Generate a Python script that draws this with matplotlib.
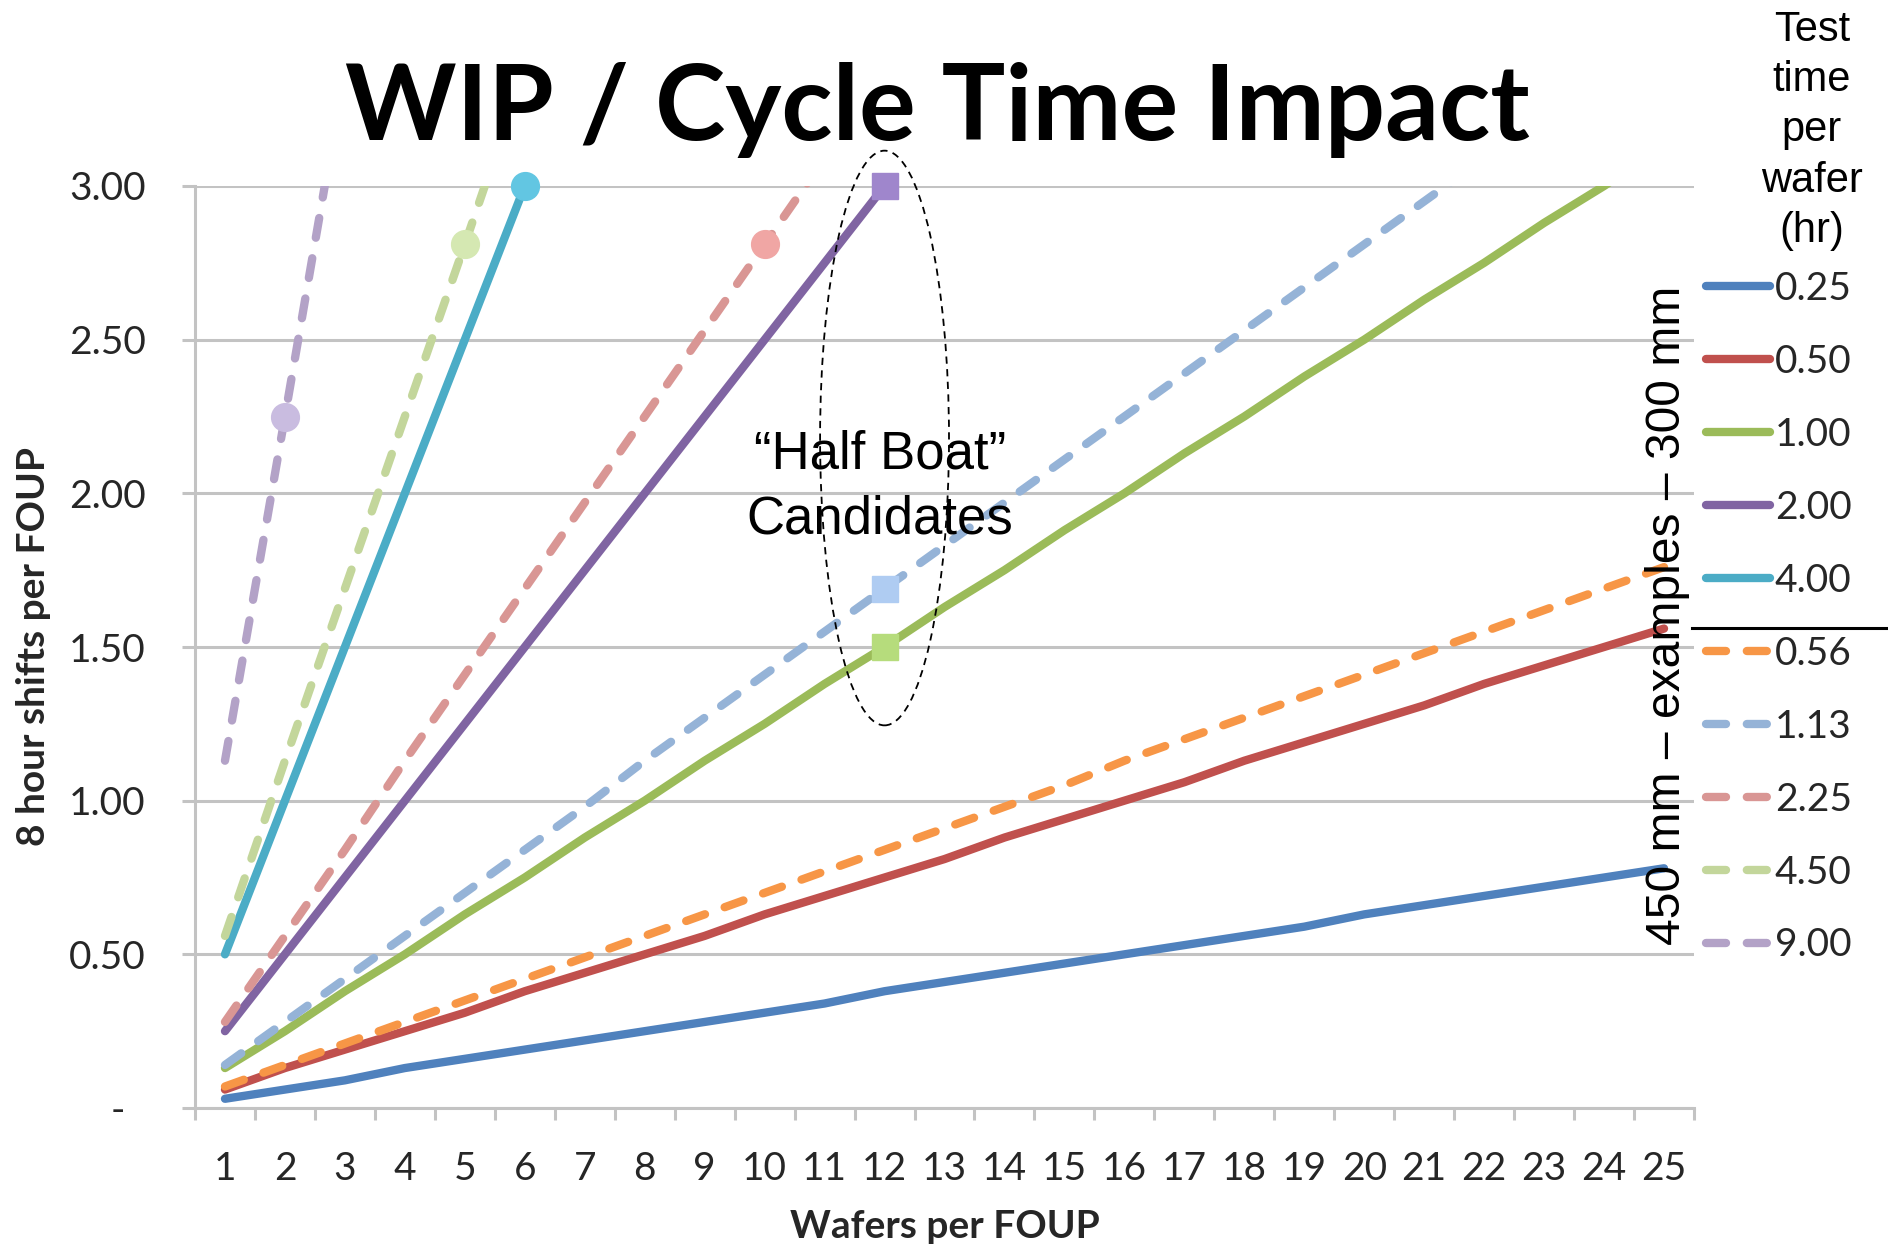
import matplotlib
matplotlib.use("Agg")
import matplotlib.pyplot as plt
from matplotlib.patches import Ellipse
from matplotlib.lines import Line2D

# wafers per FOUP (x categories)
wafers = list(range(1, 26))

# 8 hour shifts per FOUP, one list per test time per wafer (hr)
# 300 mm examples
shifts_025 = [0.03, 0.06, 0.09, 0.13, 0.16, 0.19, 0.22, 0.25, 0.28, 0.31, 0.34, 0.38, 0.41,
              0.44, 0.47, 0.50, 0.53, 0.56, 0.59, 0.63, 0.66, 0.69, 0.72, 0.75, 0.78]
shifts_050 = [0.06, 0.13, 0.19, 0.25, 0.31, 0.38, 0.44, 0.50, 0.56, 0.63, 0.69, 0.75, 0.81,
              0.88, 0.94, 1.00, 1.06, 1.13, 1.19, 1.25, 1.31, 1.38, 1.44, 1.50, 1.56]
shifts_100 = [0.13, 0.25, 0.38, 0.50, 0.63, 0.75, 0.88, 1.00, 1.13, 1.25, 1.38, 1.50, 1.63,
              1.75, 1.88, 2.00, 2.13, 2.25, 2.38, 2.50, 2.63, 2.75, 2.88, 3.00, 3.13]
shifts_200 = [0.25, 0.50, 0.75, 1.00, 1.25, 1.50, 1.75, 2.00, 2.25, 2.50, 2.75, 3.00]
shifts_400 = [0.50, 1.00, 1.50, 2.00, 2.50, 3.00]
# 450 mm examples
shifts_056 = [0.07, 0.14, 0.21, 0.28, 0.35, 0.42, 0.49, 0.56, 0.63, 0.70, 0.77, 0.84, 0.91,
              0.98, 1.05, 1.13, 1.20, 1.27, 1.34, 1.41, 1.48, 1.55, 1.62, 1.69, 1.76]
shifts_113 = [0.14, 0.28, 0.42, 0.56, 0.70, 0.84, 0.98, 1.13, 1.27, 1.41, 1.55, 1.69, 1.83,
              1.97, 2.11, 2.25, 2.39, 2.53, 2.67, 2.81, 2.95, 3.09]
shifts_225 = [0.28, 0.56, 0.84, 1.13, 1.41, 1.69, 1.97, 2.25, 2.53, 2.81, 3.09]
shifts_450 = [0.56, 1.13, 1.69, 2.25, 2.81, 3.38]
shifts_900 = [1.13, 2.25, 3.38]

test_times = ["0.25", "0.50", "1.00", "2.00", "4.00", "0.56", "1.13", "2.25", "4.50", "9.00"]
all_shifts = [shifts_025, shifts_050, shifts_100, shifts_200, shifts_400,
              shifts_056, shifts_113, shifts_225, shifts_450, shifts_900]

# highlighted points: (test time, wafers per FOUP)
circle_pts = [("9.00", 2), ("4.50", 5), ("4.00", 6), ("2.25", 10)]
square_pts = [("2.00", 12), ("1.13", 12), ("1.00", 12)]

y_ticks = [0, 0.5, 1.0, 1.5, 2.0, 2.5, 3.0]
y_ticklabels = ["-  ", "0.50", "1.00", "1.50", "2.00", "2.50", "3.00"]

colors = ["#4F81BD", "#C0504D", "#9BBB59", "#8064A2", "#4BACC6",
          "#F79646", "#95B3D7", "#D99694", "#C3D69B", "#B3A2C7"]
marker_fill = {"9.00": "#C9BCE0", "4.50": "#D5E8B2", "4.00": "#62C6E2", "2.25": "#F0A6A4",
               "2.00": "#9F86CC", "1.13": "#AFCCF2", "1.00": "#B6DC7C"}

GRAY = "#C3C3C3"
TXT = "#262626"
NUM_FONT = "Lato"
ARIAL = "Liberation Sans"

W, H = 1888, 1249
fig = plt.figure(figsize=(W / 100, H / 100), dpi=100)
ax = fig.add_axes([195 / W, 1 - 1108 / H, 1499 / W, 922 / H])

handles = []
for i, (name, vals) in enumerate(zip(test_times, all_shifts)):
    style = "-" if i < 5 else (0, (2.4, 2.5))
    ln, = ax.plot(wafers[:len(vals)], vals, color=colors[i], lw=6, linestyle=style,
                  solid_capstyle="round", dash_capstyle="round", label=name, zorder=3)
    handles.append(ln)

lookup = dict(zip(test_times, all_shifts))
for name, w in circle_pts:
    ax.plot(w, lookup[name][w - 1], "o", ms=20, mfc=marker_fill[name],
            mec=marker_fill[name], mew=1, clip_on=False, zorder=5)
for name, w in square_pts:
    ax.plot(w, lookup[name][w - 1], "s", ms=19, mfc=marker_fill[name],
            mec=marker_fill[name], mew=1, clip_on=False, zorder=5)

ax.add_patch(Ellipse((12.0, 2.18), 2.15, 1.87, fill=False, ec="black", lw=1.3,
                     linestyle=(0, (4, 3)), clip_on=False, zorder=6))
ax.text(11.92, 2.02, "\u201cHalf Boat\u201d\nCandidates", ha="center", va="center",
        fontsize=38, family=ARIAL, linespacing=1.40, zorder=7)

ax.set_xlim(0.5, 25.5)
ax.set_ylim(0, 3.0)
for s in ["top", "right"]:
    ax.spines[s].set_visible(False)
for s in ["left", "bottom"]:
    ax.spines[s].set_color(GRAY)
    ax.spines[s].set_linewidth(2.2)

ax.set_axisbelow(True)
ax.yaxis.grid(True, color=GRAY, lw=2.2)
ax.set_yticks(y_ticks)
ax.set_yticklabels(y_ticklabels, family=NUM_FONT, fontsize=28, color=TXT)
ax.tick_params(axis="y", length=9.4, width=2.2, color=GRAY, pad=26)

ax.set_xticks(wafers)
ax.set_xticklabels([str(w) for w in wafers], family=NUM_FONT, fontsize=28, color=TXT)
ax.set_xticks([w - 0.5 for w in wafers] + [25.5], minor=True)
ax.tick_params(axis="x", which="major", length=0, pad=31)
ax.tick_params(axis="x", which="minor", length=8.6, width=2.2, color=GRAY)

ax.set_xlabel("Wafers per FOUP", family=NUM_FONT, fontsize=28, weight="bold", color=TXT,
              va="center")
ax.xaxis.set_label_coords(0.5, -0.128)
ax.set_ylabel("8 hour shifts per FOUP", family=NUM_FONT, fontsize=28, weight="bold",
              color=TXT, va="center")
ax.yaxis.set_label_coords(-0.108, 0.50)

fig.text(937 / W, 1 - 140 / H, "WIP / Cycle Time Impact", ha="center", va="baseline",
         fontsize=76.5, weight="bold", family=NUM_FONT)

leg = ax.legend(handles=handles, loc="upper left", bbox_to_anchor=(1706 / W, 1 - 271 / H),
                bbox_transform=fig.transFigure, frameon=False, borderpad=0,
                borderaxespad=0, handlelength=1.65, handletextpad=0.12,
                labelspacing=0.95, prop={"family": NUM_FONT, "size": 28})
for t in leg.get_texts():
    t.set_color(TXT)

fig.text(1812 / W, 1 - 10 / H, "Test\ntime\nper\nwafer\n(hr)", ha="center", va="top",
         fontsize=30, family=ARIAL, linespacing=1.33, multialignment="center")

fig.add_artist(Line2D([1692 / W, 1.0], [1 - 628 / H, 1 - 628 / H], color="black", lw=2.2))
fig.text(1668 / W, 1 - 615 / H, "450 mm \u2013 examples \u2013 300 mm", rotation=90,
         ha="center", va="center", fontsize=34.6, family=ARIAL)

fig.savefig("out.png", dpi=100)
